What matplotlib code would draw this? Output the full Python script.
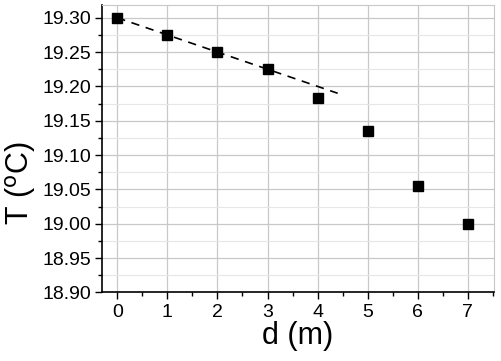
import numpy as np
import matplotlib.pyplot as plt
from matplotlib.ticker import MultipleLocator

plt.rcParams['font.family'] = ['Liberation Sans', 'DejaVu Sans']

# measured data
d = [0, 1, 2, 3, 4, 5, 6, 7]
T = [19.300, 19.275, 19.250, 19.225, 19.183, 19.135, 19.055, 19.000]

# linear fit of the first points
fit_x = [0, 4.4]
fit_slope = -0.025
fit_icpt = 19.30

fig = plt.figure(figsize=(5.01, 3.61), dpi=100)
ax = fig.add_axes([0.204, 0.19, 0.782, 0.797])

ax.yaxis.set_major_locator(MultipleLocator(0.05))
ax.yaxis.set_minor_locator(MultipleLocator(0.025))
ax.xaxis.set_major_locator(MultipleLocator(1))
ax.xaxis.set_minor_locator(MultipleLocator(0.5))
ax.grid(which='major', color='#c8c8c8', lw=0.9)
ax.grid(which='minor', axis='y', color='#e6e6e6', lw=0.8)
ax.set_axisbelow(True)

fx = np.array(fit_x)
ax.plot(fx, fit_icpt + fit_slope * fx, ls=(0, (5, 4)), color='black', lw=1.2)
ax.plot(d, T, 's', color='black', ms=6.5)

ax.set_xlim(-0.3, 7.52)
ax.set_ylim(18.90, 19.319)
ax.yaxis.set_major_formatter(plt.FuncFormatter(lambda v, p: f'{v:.2f}'))

for s in ['top', 'right']:
    ax.spines[s].set_color('#c8c8c8')
for s in ['left', 'bottom']:
    ax.spines[s].set_linewidth(1.2)
ax.tick_params(which='major', length=5, width=1, labelsize=14, direction='out', pad=3)
ax.tick_params(which='minor', length=3, width=1, direction='out')
ax.tick_params(top=False, right=False, which='both')

ax.set_xlabel('d (m)', fontsize=22, labelpad=0)
ax.set_ylabel(r'T ($^{\rm o}$C)', fontsize=22)
ax.yaxis.set_label_coords(-0.165, 0.38)

fig.savefig('out.png', dpi=100)
